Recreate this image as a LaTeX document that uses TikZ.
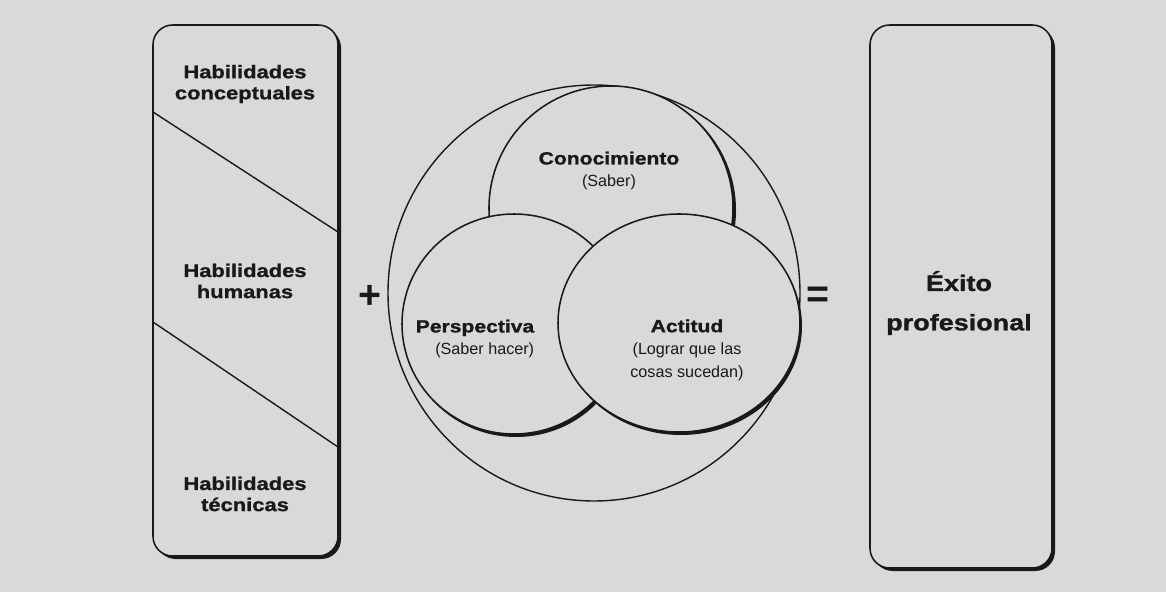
\documentclass[tikz,border=0pt]{standalone}
\usepackage{fontspec}
\setmainfont{Liberation Sans}
\newfontfamily\widefont[FakeStretch=1.2,BoldFeatures={FakeBold=1.2}]{Liberation Sans}
\definecolor{paper}{gray}{0.85}
\definecolor{ink}{gray}{0.1}
\begin{document}
\begin{tikzpicture}[x=0.025cm,y=-0.025cm,
  rim/.style={draw=ink, line width=1.1pt, fill=paper},
  drop/.style={fill=ink},
  bold/.style={font=\widefont\bfseries\fontsize{13}{15}\selectfont, text=ink, align=center},
  mixed/.style={font=\fontsize{11.5}{16}\selectfont, text=ink, align=center},
  sign/.style={font=\bfseries\fontsize{28}{28}\selectfont, text=ink}]
\pgfmathsetmacro{\r}{14};
\fill[paper] (0,0) rectangle (1166,592);

\fill[drop, rounded corners=\r] (156,28) rectangle (341,559);
\draw[rim, rounded corners=\r] (153,25) rectangle (338,556);
\draw[ink, line width=1pt] (153,112)--(338,232);
\draw[ink, line width=1pt] (153,322)--(338,447);
\node[bold] (conceptual) at (245,84) {Habilidades\\conceptuales};
\node[bold] (human) at (245,281) {Habilidades\\humanas};
\node[bold] (technical) at (245,494) {Habilidades\\técnicas};

\node[sign] (plus) at (370,297) {+};

\draw[ink, line width=1pt] (594,293) ellipse (206 and 208);
\fill[drop] (614,210) circle (122);
\draw[rim] (611,208) circle (122);
\fill[drop] (516,327) ellipse (112 and 110);
\draw[rim] (514,324) ellipse (112 and 110);
\fill[drop] (681,326) ellipse (121 and 109);
\draw[rim] (679,323) ellipse (121 and 109);
\node[mixed] (knowledge) at (609,171) {{\widefont\bfseries\fontsize{12.5}{16}\selectfont Conocimiento}\\(Saber)};
\node[mixed] (perspective) at (475,339) {{\widefont\bfseries\fontsize{12.5}{16}\selectfont Perspectiva}\\\hspace*{1.2em}(Saber hacer)};
\node[mixed] (attitude) at (687,350) {{\widefont\bfseries\fontsize{12.5}{16}\selectfont Actitud}\\(Lograr que las\\cosas sucedan)};

\node[sign] (equals) at (818,297) {=};

\fill[drop, rounded corners=\r] (873,28) rectangle (1055,571);
\draw[rim, rounded corners=\r] (870,25) rectangle (1052,568);
\node[bold, font=\widefont\bfseries\fontsize{16}{28}\selectfont] (success) at (959,303) {Éxito\\profesional};
\end{tikzpicture}
\end{document}
